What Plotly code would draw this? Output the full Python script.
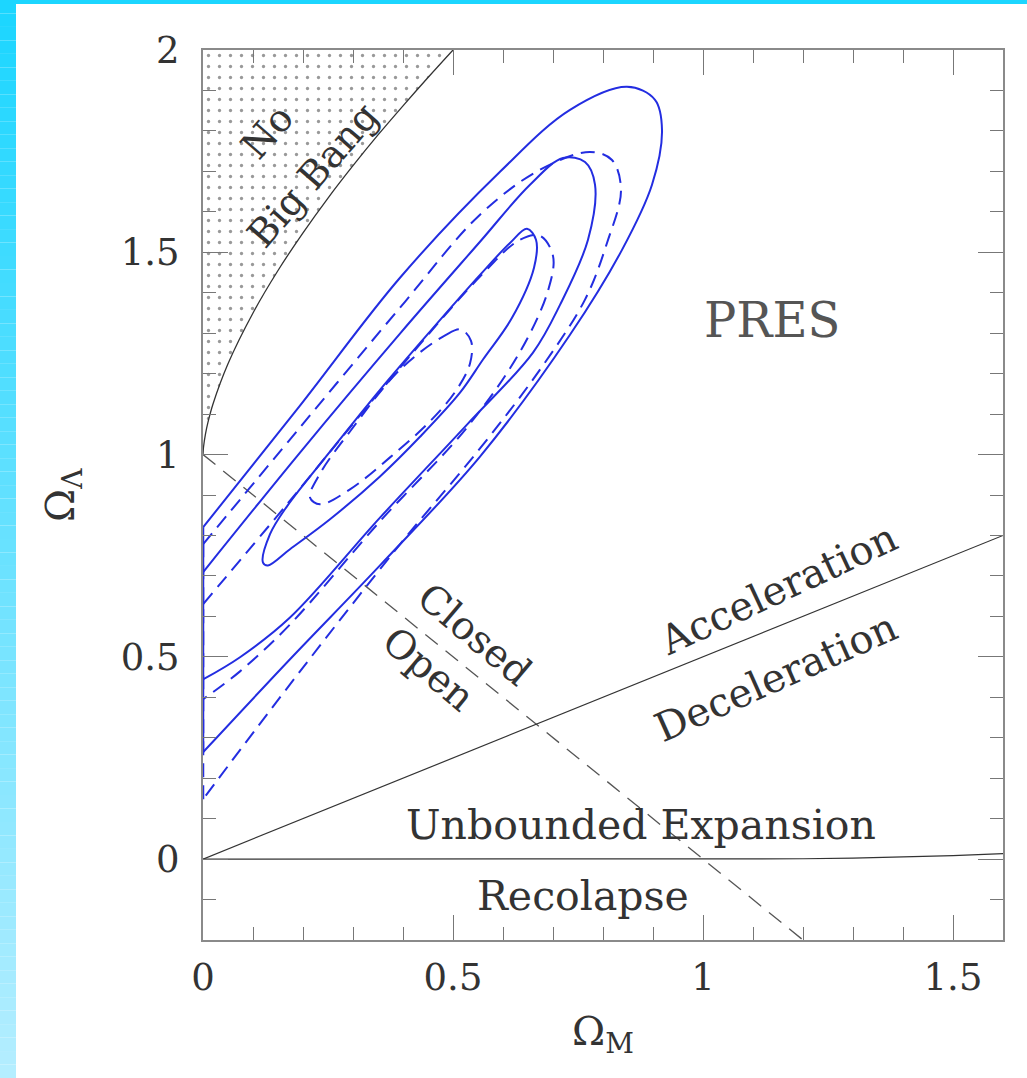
import plotly.graph_objects as go

# ---------------- data ----------------
# solid confidence contours: inner (closed), middle and outer (cut by the Omega_M = 0 edge)
s1_om = [0.354, 0.454, 0.554, 0.614, 0.648, 0.666, 0.662, 0.618, 0.560, 0.514, 0.434, 0.354, 0.254,
         0.174, 0.130, 0.120, 0.134, 0.168, 0.254, 0.354]
s1_ol = [1.160, 1.304, 1.444, 1.523, 1.558, 1.531, 1.462, 1.338, 1.235, 1.153, 1.044, 0.946, 0.840,
         0.766, 0.726, 0.733, 0.803, 0.872, 1.007, 1.160]

s2_om = [0.0, 0.194, 0.394, 0.554, 0.654, 0.720, 0.764, 0.784, 0.770, 0.714, 0.660, 0.528, 0.354,
         0.174, 0.074, 0.0]
s2_ol = [0.709, 1.005, 1.299, 1.526, 1.667, 1.733, 1.723, 1.667, 1.531, 1.370, 1.252, 1.074, 0.844,
         0.597, 0.499, 0.444]

s3_om = [0.0, 0.194, 0.394, 0.594, 0.734, 0.848, 0.904, 0.918, 0.898, 0.838, 0.734, 0.554, 0.354,
         0.174, 0.0]
s3_ol = [0.820, 1.121, 1.437, 1.699, 1.852, 1.909, 1.877, 1.802, 1.667, 1.506, 1.296, 0.995, 0.726,
         0.494, 0.264]

# dashed confidence contours: inner (closed), middle and outer
d1_om = [0.394, 0.486, 0.516, 0.536, 0.534, 0.506, 0.454, 0.374, 0.294, 0.234, 0.214, 0.234, 0.294, 0.394]
d1_ol = [1.210, 1.296, 1.309, 1.281, 1.225, 1.158, 1.082, 0.993, 0.914, 0.877, 0.894, 0.953, 1.057, 1.210]

d2_om = [0.0, 0.168, 0.354, 0.554, 0.634, 0.674, 0.700, 0.690, 0.634, 0.528, 0.354, 0.174, 0.074, 0.0]
d2_ol = [0.630, 0.877, 1.156, 1.440, 1.531, 1.541, 1.491, 1.405, 1.254, 1.067, 0.835, 0.580, 0.464, 0.395]

d3_om = [0.0, 0.194, 0.394, 0.554, 0.674, 0.774, 0.818, 0.836, 0.808, 0.764, 0.674, 0.554, 0.394,
         0.194, 0.0]
d3_ol = [0.778, 1.067, 1.363, 1.593, 1.704, 1.748, 1.728, 1.654, 1.523, 1.383, 1.210, 1.015, 0.778,
         0.464, 0.148]

# boundary of the "No Big Bang" region
nbb_om = [0.0, 0.001, 0.005, 0.01, 0.02, 0.05, 0.10, 0.15, 0.20, 0.25, 0.30, 0.35, 0.40, 0.45, 0.50]
nbb_ol = [1.0, 1.018, 1.051, 1.080, 1.125, 1.2245, 1.350, 1.455, 1.548, 1.634, 1.714, 1.790, 1.862, 1.932, 2.0]

# flat universe line (closed / open)
flat_om = [0.0, 1.2]
flat_ol = [1.0, -0.2]

# acceleration / deceleration boundary
acc_om = [0.0, 1.6]
acc_ol = [0.0, 0.8]

# expansion / recollapse boundary
rec_om = [0.0, 1.0, 1.1, 1.2, 1.3, 1.4, 1.5, 1.6]
rec_ol = [0.0, 0.0, 0.0001, 0.0008, 0.0024, 0.0050, 0.0087, 0.0133]

x_ticks = [0, 0.5, 1, 1.5]
x_tick_text = ["0", "0.5", "1", "1.5"]
y_ticks = [0, 0.5, 1, 1.5, 2]
y_tick_text = ["0", "0.5", "1", "1.5", "2"]

# ---------------- figure ----------------
BLUE = "rgb(35,45,225)"
INK = "#333333"
SERIF = "DejaVu Serif"

fig = go.Figure()

# dotted region where there is no big bang
fig.add_trace(go.Scatter(
    x=nbb_om + [0.0, 0.0], y=nbb_ol + [2.0, 1.0],
    mode="lines", line=dict(width=0), fill="toself",
    fillcolor="white",
    fillpattern=dict(shape=".", size=11, solidity=0.07, fgcolor="#333333", bgcolor="white"),
    hoverinfo="skip", showlegend=False))
fig.add_trace(go.Scatter(x=nbb_om, y=nbb_ol, mode="lines",
                         line=dict(color=INK, width=1.3, shape="spline"), showlegend=False))

fig.add_trace(go.Scatter(x=flat_om, y=flat_ol, mode="lines",
                         line=dict(color="#555555", width=1.3, dash="16px,10px"), showlegend=False))
fig.add_trace(go.Scatter(x=acc_om, y=acc_ol, mode="lines",
                         line=dict(color=INK, width=1.2), showlegend=False))
fig.add_trace(go.Scatter(x=rec_om, y=rec_ol, mode="lines",
                         line=dict(color=INK, width=1.2), showlegend=False))

DASH = "14px,8px"
for xs, ys in [(d1_om, d1_ol), (d2_om, d2_ol), (d3_om, d3_ol)]:
    fig.add_trace(go.Scatter(x=xs, y=ys, mode="lines",
                             line=dict(color=BLUE, width=2, dash=DASH, shape="spline", smoothing=1.0),
                             showlegend=False))
for xs, ys in [(s1_om, s1_ol), (s2_om, s2_ol), (s3_om, s3_ol)]:
    fig.add_trace(go.Scatter(x=xs, y=ys, mode="lines",
                             line=dict(color=BLUE, width=2, shape="spline", smoothing=1.0),
                             showlegend=False))

# the open contours close along the Omega_M = 0 edge
for ys, dash in [([s3_ol[-1], s3_ol[0]], "solid"), ([d3_ol[-1], d3_ol[0]], DASH)]:
    fig.add_trace(go.Scatter(x=[0.0, 0.0], y=ys, mode="lines", cliponaxis=False,
                             line=dict(color=BLUE, width=2.5, dash=dash), showlegend=False))

# region labels
def label(text, x, y, angle=0, size=40, color=INK):
    fig.add_annotation(x=x, y=y, xref="x", yref="y", text=text, showarrow=False,
                       textangle=angle, font=dict(family=SERIF, size=size, color=color))

label("No", 0.128, 1.798, -49, 38)
label("Big Bang", 0.220, 1.691, -49, 38)
label("PRES", 1.138, 1.333, 0, 48, "#555555")
label("Closed", 0.544, 0.556, 40, 39)
label("Open", 0.450, 0.470, 40, 39)
label("Acceleration", 1.150, 0.667, -25)
label("Deceleration", 1.146, 0.449, -24)
label("Unbounded Expansion", 0.876, 0.084, 0, 41)
label("Recolapse", 0.760, -0.091, 0, 41)

# axis titles
fig.add_annotation(x=-0.21, y=0.5, xref="paper", yref="paper", text="Ω<sub>Λ</sub>",
                   showarrow=False, textangle=-90, font=dict(family=SERIF, size=40, color=INK))
fig.add_annotation(x=0.5, y=-0.137, xref="paper", yref="paper", text="Ω<sub>M</sub>",
                   showarrow=False, font=dict(family=SERIF, size=40, color=INK))

# cyan frame along the top and left edges of the page
L, R = -203 / 800, (1027 - 203) / 800
def py(p):
    return (940 - p) / 890
fig.add_shape(type="rect", xref="paper", yref="paper", x0=L, x1=R, y0=py(4), y1=py(0),
              fillcolor="rgb(28,214,255)", line_width=0, layer="below")
n = 80
for i in range(n):
    t = i / (n - 1)
    r = int(28 + (180 - 28) * t)
    g = int(214 + (238 - 214) * t)
    fig.add_shape(type="rect", xref="paper", yref="paper", x0=L, x1=(16 - 203) / 800,
                  y0=py(1078 * (i + 1) / n), y1=py(1078 * i / n),
                  fillcolor=f"rgb({r},{g},255)", line_width=0, layer="below")

axis_common = dict(
    showline=True, linecolor="#8a8a8a", linewidth=2, mirror="ticks",
    ticks="inside", ticklen=25, tickwidth=1.4, tickcolor="#777777",
    showgrid=False, zeroline=False,
    tickfont=dict(family=SERIF, size=37, color=INK),
    minor=dict(ticks="inside", ticklen=13, tickwidth=1.4, tickcolor="#777777", dtick=0.1, tick0=0, showgrid=False),
)

fig.update_xaxes(range=[0, 1.6], tickvals=x_ticks, ticktext=x_tick_text, ticklabelstandoff=4, **axis_common)
fig.update_yaxes(range=[-0.2, 2], tickvals=y_ticks, ticktext=y_tick_text, ticklabelstandoff=14, **axis_common)

fig.update_layout(
    width=1027, height=1078,
    margin=dict(l=203, r=24, t=50, b=138),
    paper_bgcolor="white", plot_bgcolor="white",
    showlegend=False,
)

fig.write_html("out.html")
